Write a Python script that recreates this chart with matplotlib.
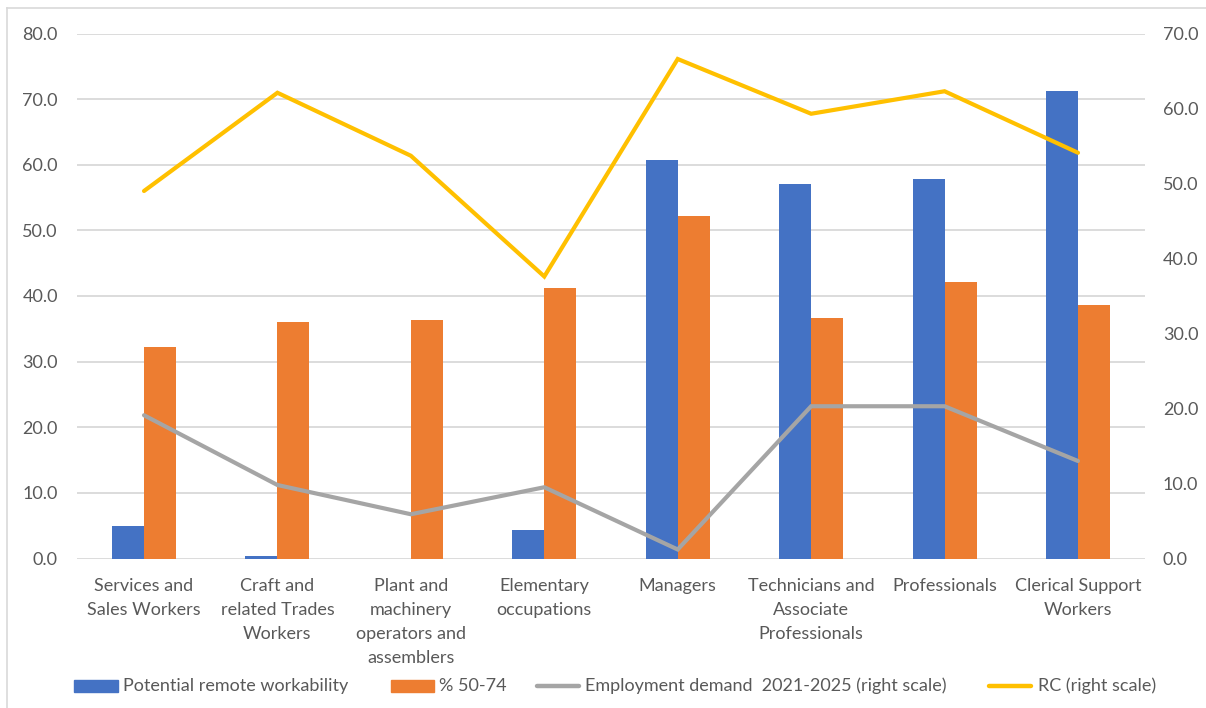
import matplotlib
matplotlib.use("Agg")
import matplotlib.pyplot as plt
import numpy as np
from matplotlib.patches import Rectangle
from matplotlib.lines import Line2D
from matplotlib.ticker import FormatStrFormatter, MultipleLocator

categories = ["Services and\nSales Workers", "Craft and\nrelated Trades\nWorkers",
              "Plant and\nmachinery\noperators and\nassemblers", "Elementary\noccupations",
              "Managers", "Technicians and\nAssociate\nProfessionals", "Professionals",
              "Clerical Support\nWorkers"]
remote = [4.9, 0.4, 0.0, 4.3, 60.8, 57.0, 57.8, 71.2]
age_50_74 = [32.2, 36.0, 36.3, 41.2, 52.2, 36.6, 42.2, 38.7]
employment_demand = [19.1, 9.8, 5.9, 9.5, 1.2, 20.3, 20.3, 13.0]
rc = [49.0, 62.1, 53.7, 37.6, 66.6, 59.3, 62.3, 54.1]

series_names = ["Potential remote workability", "% 50-74",
                "Employment demand  2021-2025 (right scale)", "RC (right scale)"]

blue = "#4472C4"
orange = "#ED7D31"
gray = "#A5A5A5"
yellow = "#FFC000"
txt = "#595959"

plt.rcParams['font.family'] = ['Lato', 'DejaVu Sans']

W, H = 1206, 708
fig = plt.figure(figsize=(W / 100, H / 100), dpi=100)
L, R, T, B = 77.3, 1144.7, 33.5, 558.5
ax = fig.add_axes([L / W, 1 - B / H, (R - L) / W, (B - T) / H])
ax2 = ax.twinx()

x = np.arange(len(categories))
w = 0.24
ax.bar(x - w / 2, remote, w, color=blue, zorder=3)
ax.bar(x + w / 2, age_50_74, w, color=orange, zorder=3)
ax2.plot(x, employment_demand, color=gray, lw=3.0, solid_capstyle='round',
         solid_joinstyle='miter', zorder=4)
ax2.plot(x, rc, color=yellow, lw=3.0, solid_capstyle='round',
         solid_joinstyle='miter', zorder=4)

ax.set_xlim(-0.5, len(categories) - 0.5)
ax.set_ylim(0, 80)
ax2.set_ylim(0, 70)
ax.yaxis.set_major_locator(MultipleLocator(10))
ax2.yaxis.set_major_locator(MultipleLocator(10))
ax.yaxis.set_major_formatter(FormatStrFormatter('%.1f'))
ax2.yaxis.set_major_formatter(FormatStrFormatter('%.1f'))
ax.grid(axis='y', color='#D9D9D9', lw=1.3, zorder=0)
ax.set_axisbelow(True)

for a in (ax, ax2):
    for s in a.spines.values():
        s.set_visible(False)
    a.tick_params(length=0, labelsize=13, colors=txt)

ax.tick_params(axis='y', pad=14)
ax2.tick_params(axis='y', pad=13)
ax.set_xticks(x)
ax.set_xticklabels(categories, fontsize=13, color=txt, linespacing=1.62, va='top')
ax.tick_params(axis='x', pad=14)

# legend drawn in figure pixel coordinates
ly = 686
def fx(px):
    return px / W
def fy(py):
    return 1 - py / H

fig.patches.append(Rectangle((fx(74), fy(692)), (118 - 74) / W, 12 / H,
                             transform=fig.transFigure, color=blue))
fig.patches.append(Rectangle((fx(391), fy(692)), (434 - 391) / W, 12 / H,
                             transform=fig.transFigure, color=orange))
fig.lines.append(Line2D([fx(537), fx(579)], [fy(ly), fy(ly)], transform=fig.transFigure,
                        color=gray, lw=3.2, solid_capstyle='round'))
fig.lines.append(Line2D([fx(989), fx(1031)], [fy(ly), fy(ly)], transform=fig.transFigure,
                        color=yellow, lw=3.2, solid_capstyle='round'))
for px, name in zip([123, 439, 585, 1038], series_names):
    fig.text(fx(px), fy(ly), name, fontsize=13, color=txt, ha='left', va='center')

# chart area border (top and left visible)
fig.lines.append(Line2D([fx(7), fx(7)], [fy(8), 0], transform=fig.transFigure,
                        color='#D9D9D9', lw=1.2))
fig.lines.append(Line2D([fx(7), 1], [fy(8), fy(8)], transform=fig.transFigure,
                        color='#D9D9D9', lw=1.2))

fig.savefig("out.png", dpi=100)
